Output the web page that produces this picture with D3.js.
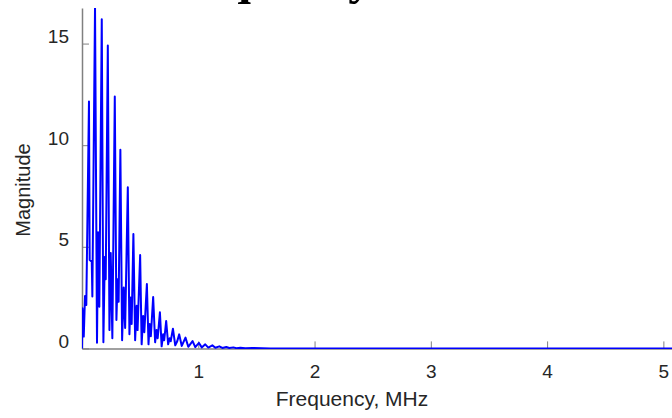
<!DOCTYPE html>
<html>
<head>
<meta charset="utf-8">
<script src="https://cdn.jsdelivr.net/npm/d3@7"></script>
<style>
  body { margin: 0; background: #fff; }
  svg { display: block; }
  .tick text { fill: #262626; font-family: "Liberation Sans", Arial, sans-serif; font-size: 19px; }
  .tick line { stroke: #808080; }
  .domain { stroke: #808080; stroke-width: 1.5; }
</style>
</head>
<body>
<div id="chart"></div>
<script>
// data
var freq = [0, 0.004, 0.015, 0.026, 0.037, 0.060, 0.066, 0.084, 0.089, 0.112,
  0.129, 0.138, 0.149, 0.170, 0.184, 0.196, 0.204, 0.222, 0.236, 0.247,
  0.261, 0.282, 0.296, 0.306, 0.315, 0.330, 0.345, 0.359, 0.371, 0.394,
  0.408, 0.418, 0.427, 0.442, 0.457, 0.470, 0.478, 0.500, 0.513, 0.526,
  0.536, 0.558, 0.572, 0.582, 0.592, 0.612, 0.629, 0.641, 0.651, 0.670,
  0.685, 0.698, 0.707, 0.724, 0.741, 0.754, 0.763, 0.782, 0.802, 0.819,
  0.836, 0.858, 0.890, 0.914, 0.951, 0.974, 1.006, 1.030, 1.060, 1.086,
  1.121, 1.147, 1.181, 1.207, 1.241, 1.267, 1.302, 1.328, 1.362, 1.405,
  1.466, 1.62, 2.0, 3.0, 4.0, 5.1];
var magnitude = [0, 1.97, 0.58, 2.58, 2.14, 12.15, 4.35, 4.27, 2.55, 16.8,
  0.28, 5.72, 2.05, 16.2, 0.3, 4.5, 3.4, 14.9, 0.9, 4.7,
  0.5, 12.4, 1.4, 3.4, 2.3, 9.77, 0.4, 3.0, 1.0, 7.93,
  0.7, 2.5, 1.2, 5.63, 0.4, 2.1, 0.9, 4.6, 0.2, 1.6,
  0.8, 3.17, 0.2, 1.2, 0.6, 2.53, 0.3, 0.9, 0.5, 1.78,
  0.1, 0.7, 0.4, 1.35, 0.2, 0.5, 0.35, 0.97, 0.15, 0.35,
  0.69, 0.12, 0.53, 0.08, 0.36, 0.06, 0.27, 0.05, 0.2, 0.04,
  0.15, 0.03, 0.1, 0.02, 0.07, 0.02, 0.05, 0.01, 0.03, 0.01,
  0.02, 0.0, 0.0, 0.0, 0.0, 0.0];
var xTicks = [1, 2, 3, 4, 5];
var yTicks = [0, 5, 10, 15];

var svgWidth = 672;
var svgHeight = 418;
var margin = { top: 8, right: 0, bottom: 70, left: 82 };
var width = svgWidth - margin.left - margin.right;
var height = svgHeight - margin.top - margin.bottom;

var data = freq.map(function(f, i) { return { f: f, m: magnitude[i] }; });

var svg = d3.select("#chart")
  .append("svg")
  .attr("width", svgWidth)
  .attr("height", svgHeight);

var chartGroup = svg.append("g")
  .attr("transform", `translate(${margin.left}, ${margin.top})`);

var xScale = d3.scaleLinear().domain([0, 5.1]).range([0, 593]);
var yScale = d3.scaleLinear().domain([0, 16.75]).range([340.4, 0]);

// title, mostly cut off above the picture
svg.append("text")
  .attr("x", 152)
  .attr("y", -6)
  .style("font-family", "'Liberation Serif', 'Times New Roman', serif")
  .style("font-weight", "bold")
  .style("font-size", "48.6px")
  .style("fill", "#000")
  .text("Frequency Domain");

// axes
var bottomAxis = d3.axisBottom(xScale).tickValues(xTicks)
  .tickFormat(d3.format("d"))
  .tickSizeInner(-7).tickSizeOuter(0).tickPadding(16);
var leftAxis = d3.axisLeft(yScale).tickValues(yTicks)
  .tickFormat(d3.format("d"))
  .tickSizeInner(-7).tickSizeOuter(0).tickPadding(13);

chartGroup.append("g")
  .attr("transform", `translate(0, ${340.4})`)
  .call(bottomAxis);

chartGroup.append("g")
  .call(leftAxis)
  .selectAll(".tick text")
  .attr("dy", "-0.05em");

// clip and line
chartGroup.append("clipPath").attr("id", "plotclip")
  .append("rect").attr("x", 0).attr("y", 0).attr("width", width).attr("height", 341);

var line = d3.line()
  .x(d => xScale(d.f))
  .y(d => yScale(d.m));

chartGroup.append("path")
  .attr("d", line(data))
  .attr("clip-path", "url(#plotclip)")
  .attr("fill", "none")
  .attr("stroke", "#0000ff")
  .attr("stroke-width", 2)
  .attr("stroke-linejoin", "round");

// axis labels
svg.append("text")
  .attr("x", 352)
  .attr("y", 406)
  .attr("text-anchor", "middle")
  .style("font-family", "'Liberation Sans', Arial, sans-serif")
  .style("font-size", "21px")
  .style("fill", "#262626")
  .text("Frequency, MHz");

svg.append("text")
  .attr("transform", "translate(30, 190) rotate(-90)")
  .attr("text-anchor", "middle")
  .style("font-family", "'Liberation Sans', Arial, sans-serif")
  .style("font-size", "20px")
  .style("fill", "#262626")
  .text("Magnitude");
</script>
</body>
</html>
